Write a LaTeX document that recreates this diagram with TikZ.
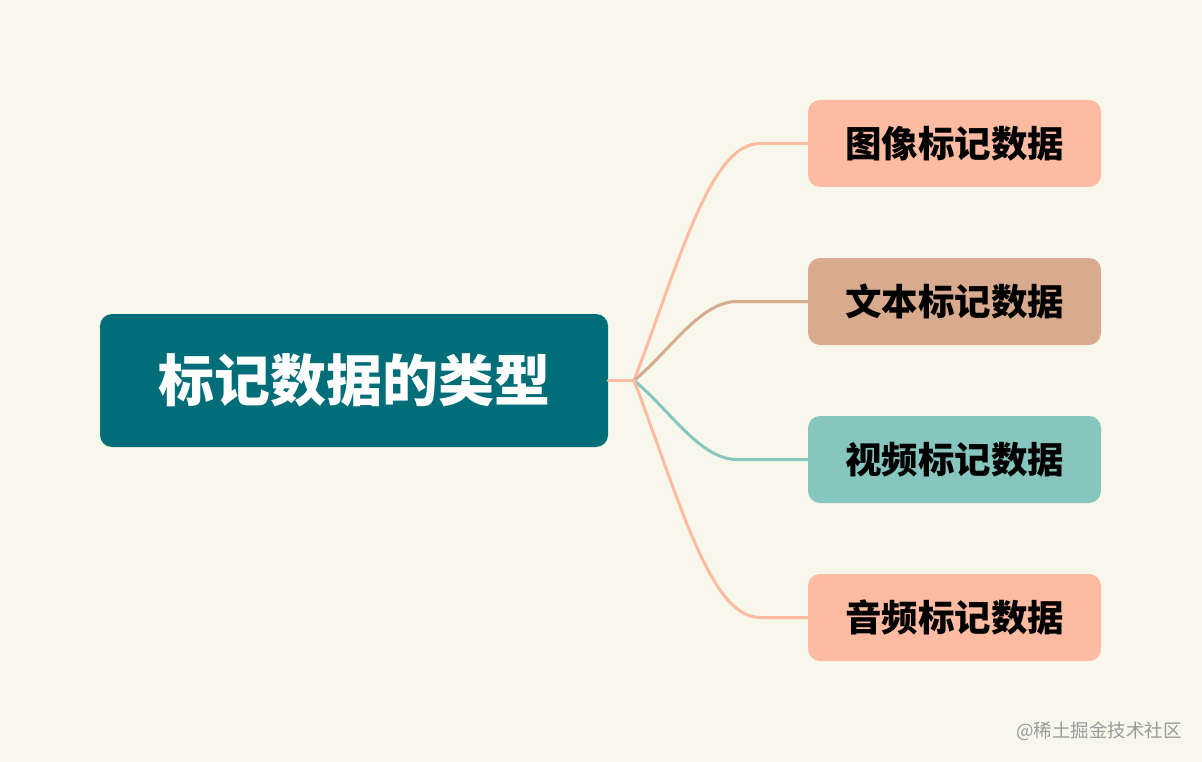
\documentclass[tikz,border=0pt]{standalone}
\usepackage{fontspec}
\newfontfamily\cjk{Noto Sans CJK SC}
\definecolor{bg}{HTML}{F8F7EB}
\definecolor{rootc}{HTML}{006E78}
\definecolor{salmon}{HTML}{FDBBA1}
\definecolor{tan}{HTML}{D8AB8E}
\definecolor{teal}{HTML}{86C6BE}
\definecolor{wm}{HTML}{9A9A9A}
\tikzset{
  rootbox/.style={fill=rootc, rounded corners=12pt, minimum width=508pt, minimum height=133pt, inner sep=0pt, text=white, font=\cjk\bfseries\fontsize{56}{60}\selectfont},
  childbox/.style={rounded corners=12pt, minimum width=293pt, minimum height=87pt, inner sep=0pt, text=black, font=\cjk\bfseries\fontsize{36.5}{40}\selectfont},
  conn/.style={line width=3pt, line cap=round}
}
\begin{document}
\begin{tikzpicture}[x=1pt,y=-1pt]
\fill[bg] (0,0) rectangle (1202,762);
\useasboundingbox (0,0) rectangle (1202,762);
\node[rootbox] (root) at (354,380.5) {标记数据的类型};
\node[childbox, fill=salmon] (c1) at (954.5,143.5) {图像标记数据};
\node[childbox, fill=tan] (c2) at (954.5,301.5) {文本标记数据};
\node[childbox, fill=teal] (c3) at (954.5,459.5) {视频标记数据};
\node[childbox, fill=salmon] (c4) at (954.5,617.5) {音频标记数据};
\coordinate (j) at (634,380.5);
\draw[conn, salmon] (root.east) -- (j);
\draw[conn, salmon] (j) .. controls (680,260) and (710,143.5) .. (760,143.5) -- (c1.west);
\draw[conn, tan] (j) .. controls (670,351) and (700,301.5) .. (737,301.5) -- (c2.west);
\draw[conn, teal] (j) .. controls (670,410) and (700,459.5) .. (737,459.5) -- (c3.west);
\draw[conn, salmon] (j) .. controls (680,501) and (710,617.5) .. (760,617.5) -- (c4.west);
\node[anchor=east, text=wm, font=\cjk\fontsize{18.5}{22}\selectfont, inner sep=0pt] (wmk) at (1182,731) {@稀土掘金技术社区};
\end{tikzpicture}
\end{document}
